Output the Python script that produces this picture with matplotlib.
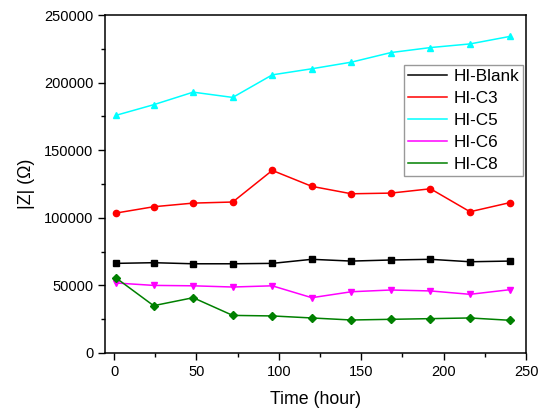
import matplotlib
matplotlib.use("Agg")
import matplotlib.pyplot as plt
from matplotlib.ticker import MultipleLocator

plt.rcParams['font.family'] = ['Liberation Sans', 'DejaVu Sans']

time_h = [1, 24, 48, 72, 96, 120, 144, 168, 192, 216, 240]
hi_blank = [66300, 66800, 66000, 66000, 66300, 69300, 68000, 68800, 69300, 67500, 68000]
hi_c3 = [103500, 108200, 110900, 111700, 135100, 123300, 117800, 118300, 121500, 104500, 111200]
hi_c5 = [175800, 183700, 193000, 189100, 205800, 210300, 215200, 222300, 226000, 228700, 234200]
hi_c6 = [51800, 50000, 49700, 48800, 49700, 40900, 45300, 46600, 45900, 43400, 46800]
hi_c8 = [55700, 35000, 40900, 27800, 27400, 25900, 24400, 24900, 25400, 25900, 24200]

series = [
    ("HI-Blank", hi_blank, "black", "s"),
    ("HI-C3", hi_c3, "red", "o"),
    ("HI-C5", hi_c5, "cyan", "^"),
    ("HI-C6", hi_c6, "magenta", "v"),
    ("HI-C8", hi_c8, "green", "D"),
]

fig = plt.figure(figsize=(5.44, 4.09), dpi=100)
ax = fig.add_axes([0.193, 0.137, 0.774, 0.826])

handles = []
for name, vals, col, mk in series:
    ax.plot(time_h, vals, color=col, marker=mk, markersize=4.5 if mk != "D" else 4,
            linewidth=1.1, label=name)
    h, = ax.plot([], [], color=col, linewidth=1.1, label=name)
    handles.append(h)

ax.set_xlim(-5.5, 250)
ax.set_ylim(0, 250000)
ax.xaxis.set_major_locator(MultipleLocator(50))
ax.xaxis.set_minor_locator(MultipleLocator(25))
ax.yaxis.set_major_locator(MultipleLocator(50000))
ax.yaxis.set_minor_locator(MultipleLocator(25000))
ax.tick_params(which='major', direction='out', length=5, width=1, labelsize=10.5)
ax.tick_params(which='minor', direction='out', length=3, width=1)
for s in ax.spines.values():
    s.set_linewidth(1.1)

ax.set_xlabel("Time (hour)", fontsize=12.8, labelpad=9)
ax.set_ylabel("|Z| (Ω)", fontsize=12.8, labelpad=6)

leg = ax.legend(handles=handles, labels=[s[0] for s in series],
                loc='upper right', bbox_to_anchor=(0.993, 0.852),
                fontsize=12.3, frameon=True, fancybox=False, handlelength=2.3,
                handletextpad=0.4, borderpad=0.2, labelspacing=0.42,
                borderaxespad=0)
leg.get_frame().set_edgecolor('#808080')
leg.get_frame().set_linewidth(1.0)

fig.savefig("out.png", dpi=100)
